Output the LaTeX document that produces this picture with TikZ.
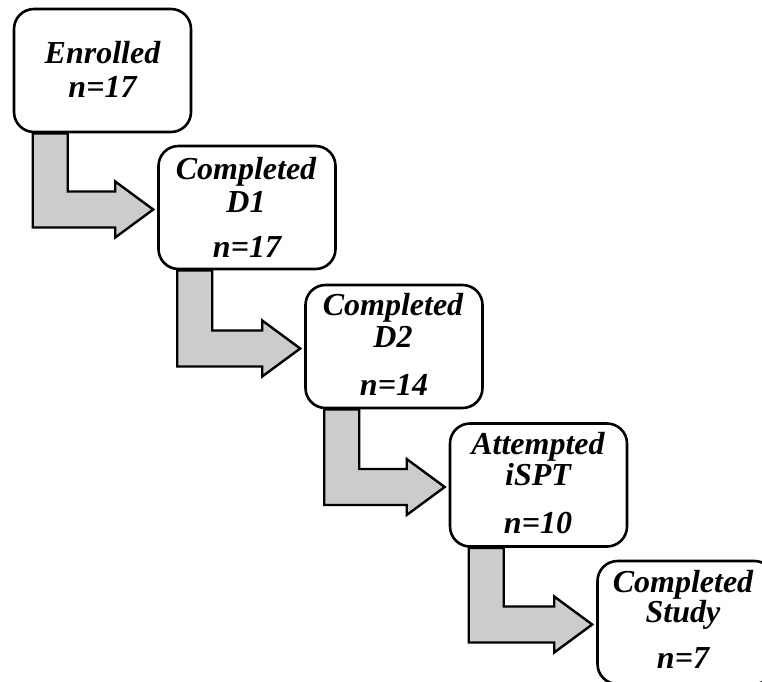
\documentclass[tikz,border=0pt]{standalone}
\usepackage{fontspec}
\setmainfont{Liberation Serif}
\usetikzlibrary{calc,backgrounds}
\tikzset{
  box/.style={draw=black, line width=2.6pt, rounded corners=20pt, fill=white,
    minimum width=177pt, minimum height=123pt, inner sep=0pt},
  lbl/.style={font=\fontsize{32}{38}\selectfont\bfseries\itshape, anchor=base, inner sep=0pt, text=black},
  blockarr/.style={draw=black, line width=2.4pt, fill=black!20, line join=miter},
}
\newcommand\bentarrow[3]{% from box, to box, tip coordinate name
  \coordinate (#3) at ($(#2.west)+(-4,-2)$);
  \draw[blockarr] ($(#1.south west)+(20,0)$) coordinate (#3s) -- ++(35,0)
    |- ($(#3)+(-38,18)$) -- ++(0,10) -- (#3) -- ++(-38,-28) -- ++(0,10)
    -| (#3s) -- cycle;
}
\begin{document}
\begin{tikzpicture}[x=1pt,y=1pt]
\useasboundingbox (0,0) rectangle (762,-681);
\clip (0,0) rectangle (762,-681);
% boxes
\node[box] (b1) at (102.5,-70.5) {};
\node[box] (b2) at (247,-207.5) {};
\node[box] (b3) at (394,-346.5) {};
\node[box] (b4) at (538.5,-485) {};
\node[box] (b5) at (686,-622.5) {};
% arrows
\begin{pgfonlayer}{background}
\bentarrow{b1}{b2}{ta}
\bentarrow{b2}{b3}{tb}
\bentarrow{b3}{b4}{tc}
\bentarrow{b4}{b5}{td}
\end{pgfonlayer}
% labels
\node[lbl] (l1a) at (102.5,-63) {Enrolled};
\node[lbl] (l1b) at (102.5,-97) {n=17};
\node[lbl] (l2a) at (246,-179) {Completed};
\node[lbl] (l2b) at (246,-212) {D1};
\node[lbl] (l2c) at (247,-257) {n=17};
\node[lbl] (l3a) at (393,-315) {Completed};
\node[lbl] (l3b) at (393,-347) {D2};
\node[lbl] (l3c) at (394,-395) {n=14};
\node[lbl] (l4a) at (538,-454) {Attempted};
\node[lbl] (l4b) at (538,-485) {iSPT};
\node[lbl] (l4c) at (538,-533) {n=10};
\node[lbl] (l5a) at (683,-592) {Completed};
\node[lbl] (l5b) at (683,-622) {Study};
\node[lbl] (l5c) at (683,-668) {n=7};
\end{tikzpicture}
\end{document}
